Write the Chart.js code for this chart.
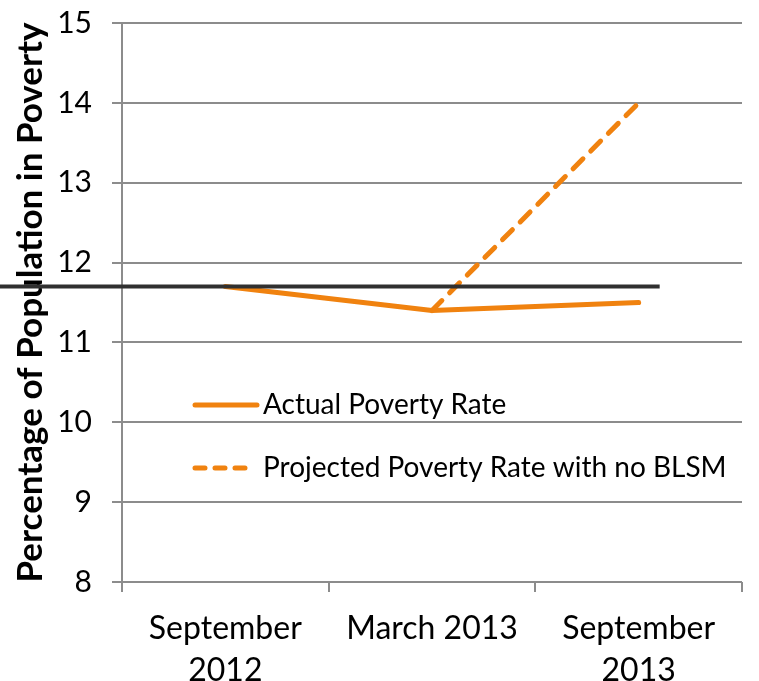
<!DOCTYPE html>
<html>
<head>
<meta charset="utf-8">
<script src="https://cdn.jsdelivr.net/npm/chart.js@4.4.1/dist/chart.umd.min.js"></script>
<style>
  html, body { margin: 0; padding: 0; background: #fff; }
  #wrap { width: 759px; height: 681px; }
</style>
</head>
<body>
<div id="wrap"><canvas id="povertyChart"></canvas></div>
<script>
var periods = [["September", "2012"], "March 2013", ["September", "2013"]];
var actualRate = [11.7, 11.4, 11.5];
var projectedRate = [null, 11.4, 14.0];
var baselineRate = 11.7;
var seriesNames = ["Actual Poverty Rate", "Projected Poverty Rate with no BLSM"];

var orange = "#F0820F";
var gridGray = "#8c8c8c";
var fontFamily = "Lato, 'Open Sans', sans-serif";

// horizontal reference line at the starting rate + legend inside the plot
var overlay = {
  id: "overlay",
  afterDatasetsDraw: function (chart) {
    var ctx = chart.ctx;
    var y = chart.scales.y.getPixelForValue(baselineRate);
    var xEnd = chart.scales.x.getPixelForValue(2) + 21;
    ctx.save();
    ctx.strokeStyle = "#303030";
    ctx.lineWidth = 4;
    ctx.beginPath();
    ctx.moveTo(0, y);
    ctx.lineTo(xEnd, y);
    ctx.stroke();

    // legend
    var area = chart.chartArea;
    var lx = area.left + 73;
    var rows = [area.top + 382, area.top + 445];
    ctx.lineWidth = 5;
    ctx.lineCap = "round";
    ctx.strokeStyle = orange;
    ctx.font = "28px " + fontFamily;
    ctx.fillStyle = "#000";
    ctx.textBaseline = "middle";
    for (var i = 0; i < seriesNames.length; i++) {
      ctx.setLineDash(i === 0 ? [] : [10, 10]);
      ctx.beginPath();
      ctx.moveTo(lx, rows[i]);
      ctx.lineTo(lx + (i === 0 ? 62 : 56), rows[i]);
      ctx.stroke();
      ctx.fillText(seriesNames[i], lx + 68, rows[i]);
    }
    ctx.restore();
  }
};

var chart = new Chart(document.getElementById("povertyChart"), {
  type: "line",
  data: {
    labels: periods,
    datasets: [{
      label: seriesNames[0],
      data: actualRate,
      borderColor: orange,
      borderWidth: 5,
      borderCapStyle: "round",
      borderJoinStyle: "round",
      pointRadius: 0,
      tension: 0
    }, {
      label: seriesNames[1],
      data: projectedRate,
      borderColor: orange,
      borderWidth: 5,
      borderDash: [14, 11],
      borderCapStyle: "round",
      pointRadius: 0,
      tension: 0
    }]
  },
  options: {
    responsive: true,
    maintainAspectRatio: false,
    animation: false,
    layout: { padding: { top: 0, right: 17, left: 0, bottom: 0 } },
    plugins: {
      legend: { display: false },
      tooltip: { enabled: false }
    },
    scales: {
      x: {
        offset: true,
        grid: {
          offset: true,
          drawOnChartArea: false,
          color: gridGray,
          lineWidth: 2,
          tickLength: 10
        },
        border: { display: false },
        ticks: {
          color: "#000",
          padding: 16,
          maxRotation: 0,
          font: { family: fontFamily, size: 32, lineHeight: 1.3 }
        },
        afterFit: function (scale) { scale.height = 99; }
      },
      y: {
        min: 8,
        max: 15,
        grid: {
          color: gridGray,
          lineWidth: 2,
          tickLength: 10
        },
        border: { color: gridGray, width: 2 },
        ticks: {
          stepSize: 1,
          color: "#000",
          padding: 20,
          // small line height keeps the top label from pushing the plot down
          font: { family: fontFamily, size: 30, lineHeight: 0.2 }
        },
        title: {
          display: true,
          text: "Percentage of Population in Poverty",
          color: "#000",
          padding: { top: 10, bottom: 0 },
          font: { family: fontFamily, size: 35, weight: "bold" }
        },
        afterFit: function (scale) { scale.width = 122; }
      }
    }
  },
  plugins: [overlay]
});
</script>
</body>
</html>
